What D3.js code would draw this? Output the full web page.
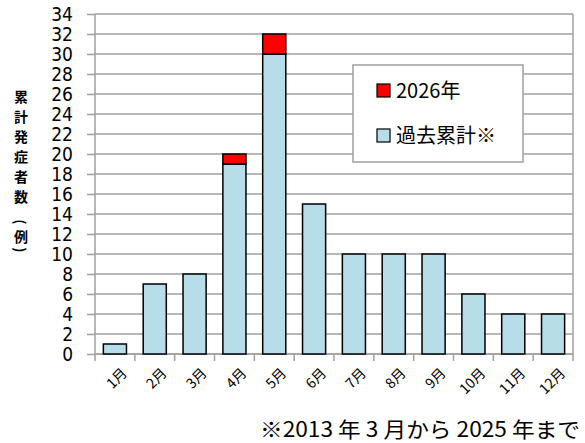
<!DOCTYPE html>
<html>
<head>
<meta charset="utf-8">
<script src="https://cdn.jsdelivr.net/npm/d3@7"></script>
<style>
  body { margin: 0; background: #fff; }
  text { font-family: "Noto Sans CJK JP", "Noto Sans", sans-serif; fill: #000; }
</style>
</head>
<body>
<svg id="canvas" width="585" height="443"></svg>
<script>
let months = ['1月', '2月', '3月', '4月', '5月', '6月', '7月', '8月', '9月', '10月', '11月', '12月']
let pastTotal = [1, 7, 8, 19, 30, 15, 10, 10, 10, 6, 4, 4]
let thisYear = [0, 0, 0, 1, 2, 0, 0, 0, 0, 0, 0, 0]
let yTicks = d3.range(0, 35, 2)
let seriesNames = ['2026年', '過去累計※']
let seriesColors = ['#ff0000', '#b7dde8']

let svg = d3.select('#canvas')

let plotLeft = 95, plotRight = 573, plotTop = 14, plotBottom = 354

let x = d3.scaleBand()
    .domain(months)
    .range([plotLeft, plotRight])
    .paddingInner(0.42)
    .paddingOuter(0.21)

let y = d3.scaleLinear()
    .domain([0, 34])
    .range([plotBottom, plotTop])

// gridlines
svg.append('g')
    .selectAll('line')
    .data(yTicks)
    .enter()
    .append('line')
    .attr('x1', plotLeft)
    .attr('x2', plotRight)
    .attr('y1', d => y(d))
    .attr('y2', d => y(d))
    .attr('stroke', '#a0a0a0')
    .attr('stroke-width', 1.5)

// right border
svg.append('line')
    .attr('x1', plotRight).attr('x2', plotRight)
    .attr('y1', plotTop).attr('y2', plotBottom)
    .attr('stroke', '#a0a0a0')
    .attr('stroke-width', 1.5)

// y axis
let yAxis = svg.append('g')
    .attr('transform', 'translate(' + plotLeft + ',0)')
    .call(d3.axisLeft(y).tickValues(yTicks).tickSize(8).tickPadding(14))
yAxis.selectAll('path, line').attr('stroke', '#a0a0a0').attr('stroke-width', 1.5)
yAxis.select('.domain').attr('d', 'M0,' + plotTop + 'V' + plotBottom)
yAxis.selectAll('text')
    .style('font-size', '19px')
    .style('font-family', '"DejaVu Sans Condensed", "DejaVu Sans", sans-serif')
    .style('font-stretch', 'condensed')
    .attr('dy', '0.36em')

// x axis
let bandStep = x.step()
let xAxis = svg.append('g')
    .attr('transform', 'translate(0,' + plotBottom + ')')
xAxis.append('line')
    .attr('x1', plotLeft).attr('x2', plotRight)
    .attr('stroke', '#a0a0a0').attr('stroke-width', 1.5)
xAxis.selectAll('line.tick')
    .data(d3.range(months.length + 1))
    .enter()
    .append('line')
    .attr('class', 'tick')
    .attr('x1', i => plotLeft + i * bandStep)
    .attr('x2', i => plotLeft + i * bandStep)
    .attr('y1', 0).attr('y2', 7)
    .attr('stroke', '#a0a0a0').attr('stroke-width', 1.5)
xAxis.selectAll('text')
    .data(months)
    .enter()
    .append('text')
    .attr('text-anchor', 'end')
    .attr('transform', d => 'translate(' + (x(d) + x.bandwidth() / 2 + 13) + ',20) rotate(-45)')
    .style('font-size', '14px')
    .text(d => d)

// stacked bars
let stackData = months.map((m, i) => ({ month: m, past: pastTotal[i], now: thisYear[i] }))
let stack = d3.stack().keys(['past', 'now'])(stackData)
let colorFor = { past: seriesColors[1], now: seriesColors[0] }

svg.append('g')
    .selectAll('g')
    .data(stack)
    .enter()
    .append('g')
    .attr('fill', d => colorFor[d.key])
    .selectAll('rect')
    .data(d => d.filter(s => s[1] - s[0] > 0))
    .enter()
    .append('rect')
    .attr('x', d => x(d.data.month))
    .attr('width', x.bandwidth())
    .attr('y', d => y(d[1]))
    .attr('height', d => y(d[0]) - y(d[1]))
    .attr('stroke', '#000')
    .attr('stroke-width', 1.5)

// y label (vertical, one character per line)
let yLabel = ['累', '計', '発', '症', '者', '数', '(', '例', ')']
let yLabelCenter = [96, 116, 136, 156, 176, 196, 222, 236, 250]
svg.append('g')
    .selectAll('text')
    .data(yLabel)
    .enter()
    .append('text')
    .attr('text-anchor', 'middle')
    .attr('dominant-baseline', 'central')
    .attr('transform', (d, i) => 'translate(21,' + yLabelCenter[i] + ')' + (d === '(' || d === ')' ? ' rotate(90)' : ''))
    .style('font-size', '14px')
    .style('font-weight', 'bold')
    .text(d => d)

// legend
let legend = svg.append('g')
legend.append('rect')
    .attr('x', 353).attr('y', 65)
    .attr('width', 170).attr('height', 97)
    .attr('fill', '#fff')
    .attr('stroke', '#a0a0a0')
    .attr('stroke-width', 1.5)
let items = legend.selectAll('g.item')
    .data(seriesNames)
    .enter()
    .append('g')
    .attr('class', 'item')
    .attr('transform', (d, i) => 'translate(0,' + (i * 45) + ')')
items.append('rect')
    .attr('x', 377).attr('y', 84)
    .attr('width', 13).attr('height', 13)
    .attr('fill', (d, i) => seriesColors[i])
    .attr('stroke', '#000')
    .attr('stroke-width', 1.2)
items.append('text')
    .attr('x', 396).attr('y', 98)
    .style('font-size', '20px')
    .text(d => d)

// footnote
svg.append('text')
    .attr('x', 580).attr('y', 437)
    .attr('text-anchor', 'end')
    .style('font-size', '21px')
    .attr('textLength', 320)
    .attr('lengthAdjust', 'spacingAndGlyphs')
    .text('※2013 年 3 月から 2025 年まで')
</script>
</body>
</html>
